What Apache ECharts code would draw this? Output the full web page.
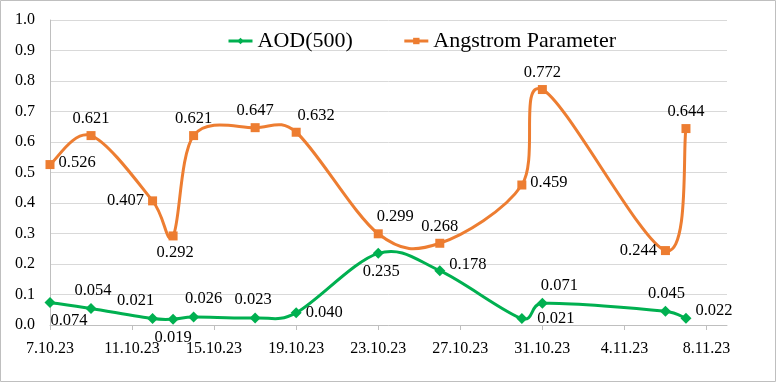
<!DOCTYPE html>
<html>
<head>
<meta charset="utf-8">
<script src="https://cdn.jsdelivr.net/npm/echarts@6/dist/echarts.min.js"></script>
<style>
html,body{margin:0;padding:0;background:#fff;}
#c{width:778px;height:384px;}
</style>
</head>
<body>
<div id="c"></div>
<script>
// ---- data ----
const startDate = '2023-10-07';
const endDate = '2023-11-09';
const dates = ['2023-10-07','2023-10-09','2023-10-12','2023-10-13','2023-10-14','2023-10-17','2023-10-19','2023-10-23','2023-10-26','2023-10-30','2023-10-31','2023-11-06','2023-11-07'];
const aod = [0.074,0.054,0.021,0.019,0.026,0.023,0.040,0.235,0.178,0.021,0.071,0.045,0.022];
const angstrom = [0.526,0.621,0.407,0.292,0.621,0.647,0.632,0.299,0.268,0.459,0.772,0.244,0.644];
const tickLabels = ['7.10.23','11.10.23','15.10.23','19.10.23','23.10.23','27.10.23','31.10.23','4.11.23','8.11.23'];
const seriesNames = ['AOD(500)','Angstrom Parameter'];

// ---- label placement (style) ----
const aodLabel = [
  ['bottom',[19,0]],['top',[2,0]],['top',[-17,0]],['bottom',[0,0]],['top',[10,0]],['top',[-2,0]],
  ['right',[0,0]],['bottom',[3,0]],['right',[0,-6]],['right',[6,0]],['top',[17,0]],['top',[1,0]],['right',[0,-8]]
];
const angLabel = [
  ['right',[0,-2]],['top',[0,0]],['left',[0,0]],['bottom',[2,0]],['top',[0,0]],['top',[0,0]],
  ['top',[20,0]],['top',[17,0]],['top',[0,0]],['right',[0,-2]],['top',[0,0]],['left',[0,0]],['top',[0,0]]
];

const DAY = 86400000;
function dayOf(s){ const p=s.split('-').map(Number); return Date.UTC(p[0],p[1]-1,p[2])/DAY; }
const d0 = dayOf(startDate);
const xMax = dayOf(endDate) - d0;
const tickVals = tickLabels.map((t,i)=>i*4);
const xs = dates.map(d=>dayOf(d)-d0);

const FONT = "'Liberation Serif','Times New Roman',serif";
const GREEN = '#00b050', ORANGE = '#ed7d31';

function build(vals, labels){
  return vals.map((v,i)=>({
    value:[xs[i], v],
    label:{position:labels[i][0], offset:labels[i][1]}
  }));
}

// Excel-like smoothed segment drawn through the axis scales (api.coord)
function splineSeries(name, vals, color, z){
  return {
    name:name, type:'custom', coordinateSystem:'cartesian2d', z:z, silent:true,
    encode:{x:0,y:1},
    data: vals.map((v,i)=>[xs[i], v]),
    renderItem:function(params, api){
      const i = params.dataIndex, n = vals.length;
      if(i >= n-1) return null;
      const P = k => api.coord([xs[Math.max(0,Math.min(n-1,k))], vals[Math.max(0,Math.min(n-1,k))]]);
      const p0=P(i-1), p1=P(i), p2=P(i+1), p3=P(i+2);
      const dist=(a,b)=>Math.hypot(a[0]-b[0],a[1]-b[1]);
      const d12=dist(p1,p2), d02=dist(p0,p2), d13=dist(p1,p3);
      let f0=1/6, f1=1/6;
      if(d02*f0 > d12/2 && d02>0) f0 = d12/2/d02;
      if(d13*f1 > d12/2 && d13>0) f1 = d12/2/d13;
      const c1=[p1[0]+(p2[0]-p0[0])*f0, p1[1]+(p2[1]-p0[1])*f0];
      const c2=[p2[0]-(p3[0]-p1[0])*f1, p2[1]-(p3[1]-p1[1])*f1];
      return {
        type:'bezierCurve',
        shape:{x1:p1[0],y1:p1[1],cpx1:c1[0],cpy1:c1[1],cpx2:c2[0],cpy2:c2[1],x2:p2[0],y2:p2[1]},
        style:{stroke:color,lineWidth:3,fill:null,lineCap:'round'}
      };
    }
  };
}

const chart = echarts.init(document.getElementById('c'), null, {renderer:'canvas'});
chart.setOption({
  animation:false,
  backgroundColor:'#fff',
  graphic:[{type:'rect',shape:{x:0.5,y:0.5,width:775,height:381},style:{fill:'none',stroke:'#bfbfbf',lineWidth:1},silent:true,z:-1}],
  grid:{left:50,right:51,top:20,bottom:59},
  legend:{
    left:222, top:25, itemWidth:24, itemHeight:8, itemGap:50,
    textStyle:{fontFamily:FONT,fontSize:22,color:'#000'},
    data:[
      {name:seriesNames[0], lineStyle:{color:GREEN,width:3,opacity:1}, itemStyle:{color:GREEN}},
      {name:seriesNames[1], lineStyle:{color:ORANGE,width:3,opacity:1}, itemStyle:{color:ORANGE}}
    ]
  },
  xAxis:{
    type:'value', min:0, max:xMax, interval:4,
    axisLine:{show:true,lineStyle:{color:'#bfbfbf',width:1}},
    axisTick:{show:true,length:5,lineStyle:{color:'#bfbfbf'},customValues:tickVals},
    axisLabel:{fontFamily:FONT,fontSize:16,color:'#000',margin:16,customValues:tickVals,
      formatter:v=>{const i=Math.round(v/4);return (v%4===0&&tickLabels[i])?tickLabels[i]:'';}},
    splitLine:{show:false}
  },
  yAxis:{
    type:'value', min:0, max:1, interval:0.1,
    axisLine:{show:true,lineStyle:{color:'#bfbfbf',width:1}},
    axisTick:{show:false},
    axisLabel:{fontFamily:FONT,fontSize:16,color:'#000',margin:15,formatter:v=>v.toFixed(1)},
    splitLine:{lineStyle:{color:'#d9d9d9',width:1}}
  },
  series:[
    splineSeries('aodCurve', aod, GREEN, 3),
    splineSeries('angCurve', angstrom, ORANGE, 2),
    {
      name:seriesNames[0], type:'line',
      data:build(aod,aodLabel),
      symbol:'diamond', symbolSize:11,
      itemStyle:{color:GREEN},
      lineStyle:{color:GREEN,width:3,opacity:0},
      label:{show:true,fontFamily:FONT,fontSize:16.5,color:'#000',distance:4,
        formatter:p=>p.value[1].toFixed(3)},
      z:5
    },
    {
      name:seriesNames[1], type:'line',
      data:build(angstrom,angLabel),
      symbol:'rect', symbolSize:9,
      itemStyle:{color:ORANGE},
      lineStyle:{color:ORANGE,width:3,opacity:0},
      label:{show:true,fontFamily:FONT,fontSize:16.5,color:'#000',distance:4,
        formatter:p=>p.value[1].toFixed(3)},
      z:4
    }
  ]
});
</script>
</body>
</html>
